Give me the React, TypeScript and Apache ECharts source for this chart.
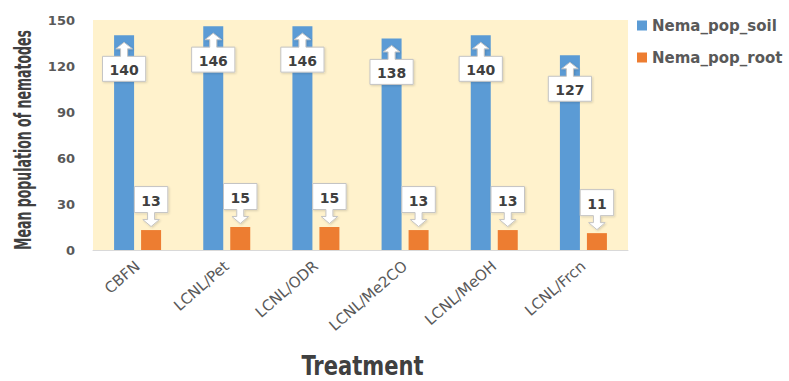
import React, { useEffect, useRef } from "react";
import * as echarts from "echarts";

// Treatments and mean nematode populations
const categories = ["CBFN", "LCNL/Pet", "LCNL/ODR", "LCNL/Me2CO", "LCNL/MeOH", "LCNL/Frcn"];
const soilValues = [140, 146, 146, 138, 140, 127];
const rootValues = [13, 15, 15, 13, 13, 11];
const seriesNames = ["Nema_pop_soil", "Nema_pop_root"];
const yMin = 0;
const yMax = 150;
const yStep = 30;
const xTitle = "Treatment";
const yTitle = "Mean population of nematodes";

const BLUE = "#5B9BD5";
const ORANGE = "#ED7D31";
const BAR_WIDTH = 20;
const BAR_GAP = 0.35;
const BAR_OFFSET = (BAR_WIDTH + BAR_WIDTH * BAR_GAP) / 2;
const LABEL_FONT = 'bold 14px "DejaVu Sans"';
const TITLE_FAMILY = '"DejaVu Sans Condensed", "DejaVu Sans", sans-serif';

function measureText(text: string, font: string): number {
  const ctx = document.createElement("canvas").getContext("2d");
  if (!ctx) return text.length * 10;
  ctx.font = font;
  return ctx.measureText(text).width;
}

// Callout box with an arrow pointing at the top of the bar
function calloutRenderer(direction: "up" | "down", offsetX: number) {
  return (_params: any, api: any) => {
    const idx = api.value(0);
    const val = api.value(1);
    const pt = api.coord([idx, val]);
    const cx = pt[0] + offsetX;
    const barTop = pt[1];
    const text = String(val);
    const w = measureText(text, LABEL_FONT) + 14;
    const h = direction === "up" ? 25 : 26;
    const L = cx - w / 2;
    const R = cx + w / 2;
    const sw = 3.5;
    const hw = 8.3;
    let points: number[][];
    let T: number;
    let B: number;
    if (direction === "up") {
      T = barTop + 21;
      B = T + h;
      points = [
        [L, T], [cx - sw, T], [cx - sw, T - 7.5], [cx - hw, T - 7.5], [cx, T - 14],
        [cx + hw, T - 7.5], [cx + sw, T - 7.5], [cx + sw, T], [R, T], [R, B], [L, B],
      ];
    } else {
      B = barTop - 17.5;
      T = B - h;
      points = [
        [L, T], [R, T], [R, B], [cx + sw, B], [cx + sw, B + 7], [cx + hw, B + 7],
        [cx, B + 14], [cx - hw, B + 7], [cx - sw, B + 7], [cx - sw, B], [L, B],
      ];
    }
    return {
      type: "group",
      children: [
        {
          type: "polygon",
          shape: { points },
          style: {
            fill: "#FFFFFF",
            stroke: "#C4C4C4",
            lineWidth: 1,
            shadowBlur: 2,
            shadowColor: "rgba(0,0,0,0.15)",
            shadowOffsetX: 1,
            shadowOffsetY: 1,
          },
        },
        {
          type: "text",
          x: cx,
          y: (T + B) / 2 + 1,
          style: {
            text,
            fill: "#404040",
            font: LABEL_FONT,
            align: "center",
            verticalAlign: "middle",
          },
        },
      ],
    };
  };
}

export default function App() {
  const ref = useRef<HTMLDivElement>(null);

  useEffect(() => {
    if (!ref.current) return;
    const chart = echarts.init(ref.current, undefined, { renderer: "svg" });

    const yTitleFont = `bold 23px ${TITLE_FAMILY}`;
    const xTitleFont = `bold 27px ${TITLE_FAMILY}`;
    const yTitleScale = 220 / measureText(yTitle, yTitleFont);
    const xTitleScale = 122 / measureText(xTitle, xTitleFont);

    chart.setOption({
      animation: false,
      backgroundColor: "#FFFFFF",
      grid: {
        left: 93,
        top: 20,
        width: 535,
        height: 230,
        show: true,
        backgroundColor: "#FFF2CC",
        borderWidth: 0,
      },
      legend: {
        orient: "vertical",
        left: 632,
        top: 13,
        itemWidth: 10,
        itemHeight: 10,
        itemGap: 17,
        icon: "rect",
        data: seriesNames,
        textStyle: {
          fontFamily: "DejaVu Sans",
          fontWeight: "bold",
          fontSize: 15,
          color: "#595959",
        },
      },
      xAxis: {
        type: "category",
        data: categories,
        axisLine: { lineStyle: { color: "#D9D9D9", width: 1 } },
        axisTick: { show: false },
        axisLabel: {
          rotate: 41,
          margin: 14,
          interval: 0,
          fontFamily: "DejaVu Sans",
          fontSize: 15,
          color: "#595959",
        },
      },
      yAxis: {
        type: "value",
        min: yMin,
        max: yMax,
        interval: yStep,
        splitLine: { show: false },
        axisLine: { show: false },
        axisTick: { show: false },
        axisLabel: {
          margin: 18,
          fontFamily: "DejaVu Sans",
          fontWeight: "bold",
          fontSize: 13,
          color: "#595959",
        },
      },
      graphic: [
        {
          type: "text",
          x: 23,
          y: 140,
          rotation: Math.PI / 2,
          scaleX: yTitleScale,
          style: {
            text: yTitle,
            font: yTitleFont,
            fill: "#404040",
            align: "center",
            verticalAlign: "middle",
          },
        },
        {
          type: "text",
          x: 362.5,
          y: 366,
          scaleX: xTitleScale,
          style: {
            text: xTitle,
            font: xTitleFont,
            fill: "#404040",
            align: "center",
            verticalAlign: "middle",
          },
        },
      ],
      series: [
        {
          name: seriesNames[0],
          type: "bar",
          data: soilValues,
          barWidth: BAR_WIDTH,
          barGap: `${BAR_GAP * 100}%`,
          itemStyle: { color: BLUE },
        },
        {
          name: seriesNames[1],
          type: "bar",
          data: rootValues,
          barWidth: BAR_WIDTH,
          barGap: `${BAR_GAP * 100}%`,
          itemStyle: { color: ORANGE },
        },
        {
          name: "soil-callouts",
          type: "custom",
          data: soilValues.map((v, i) => [i, v]),
          encode: { x: 0, y: 1 },
          renderItem: calloutRenderer("up", -BAR_OFFSET),
          z: 5,
          silent: true,
        },
        {
          name: "root-callouts",
          type: "custom",
          data: rootValues.map((v, i) => [i, v]),
          encode: { x: 0, y: 1 },
          renderItem: calloutRenderer("down", BAR_OFFSET),
          z: 5,
          silent: true,
        },
      ],
    });

    return () => chart.dispose();
  }, []);

  return (
    <div
      ref={ref}
      style={{ position: "fixed", left: 0, top: 0, width: 789, height: 381 }}
    />
  );
}
